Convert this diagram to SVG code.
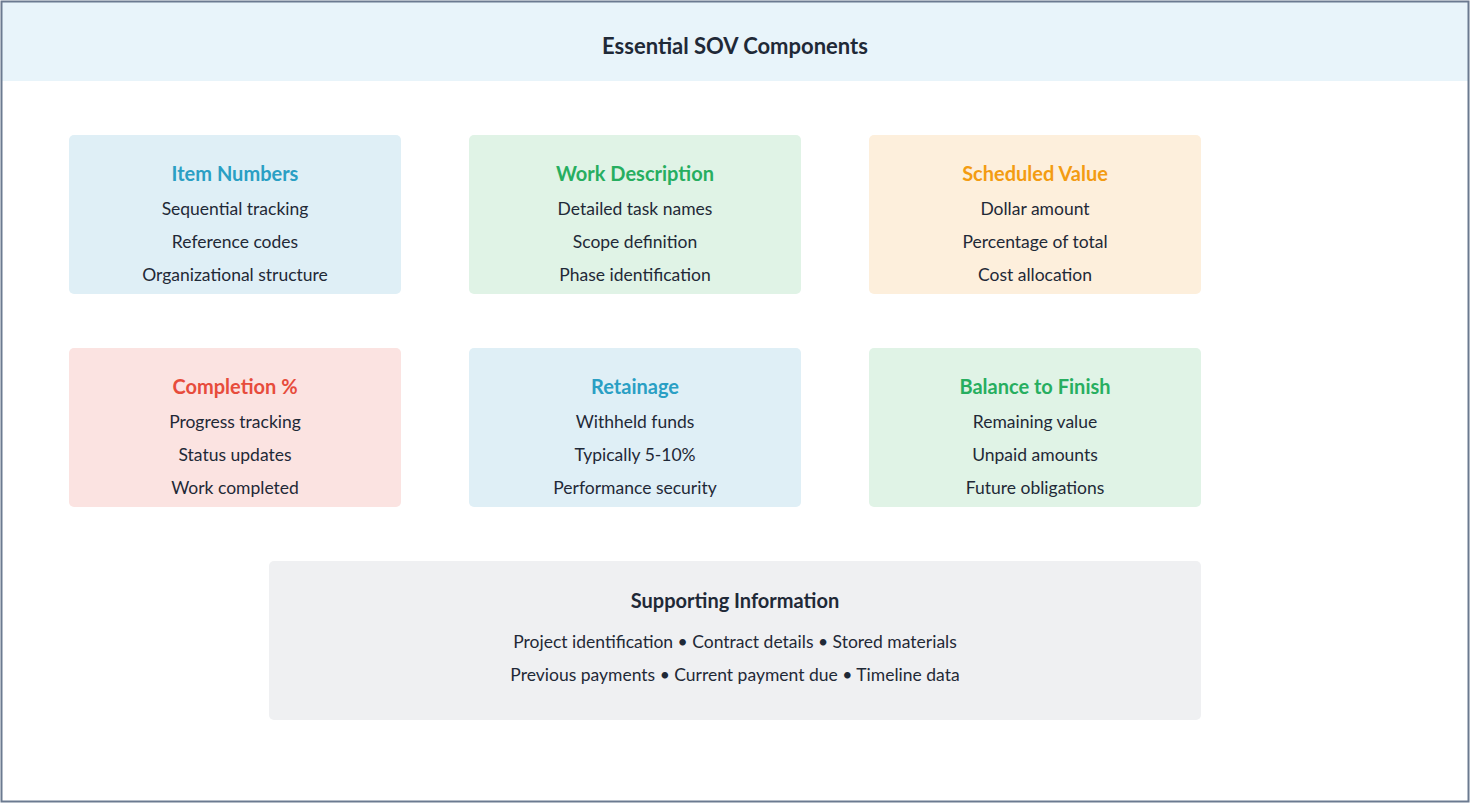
<svg xmlns="http://www.w3.org/2000/svg" width="1470" height="803" viewBox="0 0 1470 803">
<style>
text{font-family:Lato,"Liberation Sans",sans-serif;text-anchor:middle;fill:#1f2937}
.h{font-size:20px;font-weight:bold}
.t{font-size:17.5px}
.box{rx:5}
</style>
<rect x="0" y="0" width="1470" height="803" fill="#fff"/>
<rect x="2" y="2" width="1466" height="79" fill="#e8f4fa"/>
<rect x="1.5" y="1.5" width="1467" height="800" fill="none" stroke="#6b7a90" stroke-width="2"/>
<text x="735" y="54" class="h" style="font-size:22px">Essential SOV Components</text>
<g id="n1"><rect class="box" x="69" y="135" width="332" height="159" fill="#dfeff6"/>
<text x="235" y="181" class="h" fill="#2a9fc4" style="fill:#2a9fc4">Item Numbers</text>
<text x="235" y="215" class="t">Sequential tracking</text><text x="235" y="248" class="t">Reference codes</text><text x="235" y="281" class="t">Organizational structure</text></g>
<g id="n2"><rect class="box" x="469" y="135" width="332" height="159" fill="#e0f3e6"/>
<text x="635" y="181" class="h" style="fill:#27ae60">Work Description</text>
<text x="635" y="215" class="t">Detailed task names</text><text x="635" y="248" class="t">Scope definition</text><text x="635" y="281" class="t">Phase identification</text></g>
<g id="n3"><rect class="box" x="869" y="135" width="332" height="159" fill="#fdefdc"/>
<text x="1035" y="181" class="h" style="fill:#f39c12">Scheduled Value</text>
<text x="1035" y="215" class="t">Dollar amount</text><text x="1035" y="248" class="t">Percentage of total</text><text x="1035" y="281" class="t">Cost allocation</text></g>
<g id="n4"><rect class="box" x="69" y="348" width="332" height="159" fill="#fbe3e1"/>
<text x="235" y="394" class="h" style="fill:#e74c3c">Completion %</text>
<text x="235" y="428" class="t">Progress tracking</text><text x="235" y="461" class="t">Status updates</text><text x="235" y="494" class="t">Work completed</text></g>
<g id="n5"><rect class="box" x="469" y="348" width="332" height="159" fill="#dfeff6"/>
<text x="635" y="394" class="h" style="fill:#2a9fc4">Retainage</text>
<text x="635" y="428" class="t">Withheld funds</text><text x="635" y="461" class="t">Typically 5-10%</text><text x="635" y="494" class="t">Performance security</text></g>
<g id="n6"><rect class="box" x="869" y="348" width="332" height="159" fill="#e0f3e6"/>
<text x="1035" y="394" class="h" style="fill:#27ae60">Balance to Finish</text>
<text x="1035" y="428" class="t">Remaining value</text><text x="1035" y="461" class="t">Unpaid amounts</text><text x="1035" y="494" class="t">Future obligations</text></g>
<g id="n7"><rect class="box" x="269" y="561" width="932" height="159" fill="#eff0f2"/>
<text x="735" y="608" class="h">Supporting Information</text>
<text x="735" y="648" class="t">Project identification • Contract details • Stored materials</text>
<text x="735" y="681" class="t">Previous payments • Current payment due • Timeline data</text></g>
<g id="connectors"/>
</svg>
